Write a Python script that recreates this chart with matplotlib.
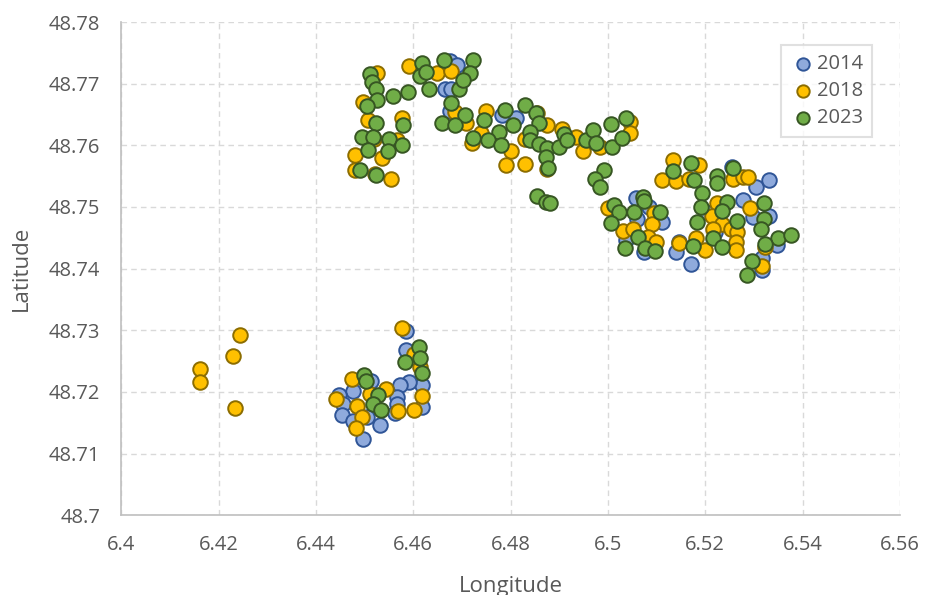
import matplotlib.pyplot as plt
from matplotlib.ticker import FixedLocator

# 2014
lon_2014 = [6.4585, 6.4586, 6.4619, 6.4591, 6.4572, 6.4619, 6.4566, 6.4567, 6.4562, 6.4531,
            6.4514, 6.4476, 6.4447, 6.4456, 6.4453, 6.4476, 6.4496, 6.4504,
            6.4675, 6.4665, 6.4678, 6.4675, 6.4811, 6.4690, 6.4782,
            6.5254, 6.5305, 6.5330, 6.5277, 6.5297, 6.5317, 6.5317, 6.5201, 6.5146, 6.5140,
            6.5171, 6.5058, 6.5085, 6.5112, 6.5074, 6.5037, 6.5348, 6.5220, 6.5330, 6.5060]
lat_2014 = [48.7299, 48.7268, 48.7211, 48.7216, 48.7211, 48.7176, 48.7192, 48.7181, 48.7166, 48.7146,
            48.7217, 48.7201, 48.7195, 48.7181, 48.7163, 48.7153, 48.7124, 48.7160,
            48.7736, 48.7692, 48.7691, 48.7656, 48.7644, 48.7730, 48.7650,
            48.7565, 48.7533, 48.7544, 48.7512, 48.7484, 48.7417, 48.7398, 48.7492, 48.7444, 48.7427,
            48.7408, 48.7514, 48.7500, 48.7476, 48.7427, 48.7446, 48.7438, 48.7460, 48.7485, 48.7480]

# 2018
lon_2018 = [6.4162, 6.4162, 6.4230, 6.4244, 6.4234,
            6.4577, 6.4601, 6.4613, 6.4617, 6.4602, 6.4569, 6.4545, 6.4511, 6.4475, 6.4441,
            6.4485, 6.4494, 6.4483,
            6.4526, 6.4497, 6.4507, 6.4576, 6.4566, 6.4480, 6.4535, 6.4480, 6.4521, 6.4555, 6.4520,
            6.4591, 6.4648, 6.4678, 6.4685, 6.4708, 6.4750, 6.4720, 6.4801, 6.4791, 6.4829,
            6.4854, 6.4874, 6.4874, 6.4905, 6.4935, 6.4949, 6.4983, 6.5046, 6.5045, 6.4740, 6.4830,
            6.5133, 6.5112, 6.5140, 6.5188, 6.5167, 6.5256, 6.5277, 6.5287, 6.5292, 6.5317,
            6.5224, 6.5214, 6.5234, 6.5253, 6.5266, 6.5215, 6.5264, 6.5263, 6.5200, 6.5145,
            6.5181, 6.5000, 6.5095, 6.5090, 6.5030, 6.5051, 6.5082, 6.5099, 6.5322]
lat_2018 = [48.7237, 48.7216, 48.7258, 48.7292, 48.7174,
            48.7304, 48.7261, 48.7241, 48.7193, 48.7171, 48.7169, 48.7204, 48.7196, 48.7221, 48.7188,
            48.7177, 48.7160, 48.7142,
            48.7718, 48.7671, 48.7641, 48.7645, 48.7608, 48.7584, 48.7579, 48.7560, 48.7554, 48.7545, 48.7610,
            48.7729, 48.7718, 48.7720, 48.7654, 48.7636, 48.7656, 48.7603, 48.7590, 48.7568, 48.7569,
            48.7653, 48.7633, 48.7561, 48.7626, 48.7614, 48.7590, 48.7598, 48.7638, 48.7620, 48.7620, 48.7610,
            48.7577, 48.7544, 48.7542, 48.7568, 48.7546, 48.7546, 48.7548, 48.7548, 48.7499, 48.7404,
            48.7506, 48.7485, 48.7473, 48.7465, 48.7460, 48.7464, 48.7444, 48.7430, 48.7430, 48.7442,
            48.7449, 48.7499, 48.7490, 48.7473, 48.7461, 48.7464, 48.7452, 48.7444, 48.7435]

# 2023
lon_2023 = [6.4611, 6.4613, 6.4584, 6.4618, 6.4528, 6.4518, 6.4533, 6.4499, 6.4503,
            6.4512, 6.4515, 6.4524, 6.4526, 6.4505, 6.4558, 6.4589, 6.4524, 6.4579, 6.4494,
            6.4518, 6.4551, 6.4577, 6.4507, 6.4548, 6.4490, 6.4524,
            6.4617, 6.4613, 6.4626, 6.4663, 6.4632, 6.4695, 6.4723, 6.4716, 6.4702, 6.4678,
            6.4706, 6.4659, 6.4686, 6.4745, 6.4788, 6.4805, 6.4829, 6.4853, 6.4777, 6.4753,
            6.4781, 6.4722, 6.4859, 6.4839, 6.4839, 6.4858, 6.4874, 6.4873, 6.4876, 6.4899,
            6.4909, 6.4915, 6.4955, 6.4969, 6.4976, 6.5007, 6.5009, 6.5029, 6.5037, 6.4991,
            6.4974, 6.4983, 6.4855, 6.4872, 6.4881,
            6.5134, 6.5171, 6.5177, 6.5225, 6.5225, 6.5256, 6.5194, 6.5191, 6.5321, 6.5321,
            6.5314, 6.5350, 6.5322, 6.5296, 6.5285, 6.5245, 6.5235, 6.5266, 6.5215, 6.5182,
            6.5234, 6.5174, 6.5013, 6.5022, 6.5007, 6.5072, 6.5074, 6.5054, 6.5107, 6.5061,
            6.5077, 6.5097, 6.5034, 6.5376]
lat_2023 = [48.7273, 48.7255, 48.7248, 48.7230, 48.7195, 48.7180, 48.7170, 48.7228, 48.7217,
            48.7715, 48.7703, 48.7692, 48.7673, 48.7663, 48.7680, 48.7686, 48.7636, 48.7633, 48.7614,
            48.7614, 48.7610, 48.7600, 48.7592, 48.7591, 48.7560, 48.7552,
            48.7734, 48.7712, 48.7719, 48.7739, 48.7692, 48.7691, 48.7738, 48.7718, 48.7706, 48.7669,
            48.7649, 48.7636, 48.7633, 48.7641, 48.7657, 48.7633, 48.7665, 48.7652, 48.7622, 48.7609,
            48.7600, 48.7612, 48.7636, 48.7622, 48.7609, 48.7602, 48.7595, 48.7581, 48.7563, 48.7598,
            48.7619, 48.7609, 48.7609, 48.7625, 48.7603, 48.7634, 48.7597, 48.7612, 48.7645, 48.7560,
            48.7546, 48.7533, 48.7518, 48.7508, 48.7506,
            48.7559, 48.7571, 48.7544, 48.7550, 48.7539, 48.7564, 48.7523, 48.7500, 48.7506, 48.7480,
            48.7465, 48.7449, 48.7440, 48.7412, 48.7389, 48.7508, 48.7493, 48.7478, 48.7449, 48.7476,
            48.7435, 48.7436, 48.7503, 48.7492, 48.7474, 48.7517, 48.7510, 48.7492, 48.7492, 48.7452,
            48.7434, 48.7429, 48.7434, 48.7455]

x_ticks = [6.4, 6.42, 6.44, 6.46, 6.48, 6.5, 6.52, 6.54, 6.56]
y_ticks = [48.7, 48.71, 48.72, 48.73, 48.74, 48.75, 48.76, 48.77, 48.78]
x_labels = ['6.4', '6.42', '6.44', '6.46', '6.48', '6.5', '6.52', '6.54', '6.56']
y_labels = ['48.7', '48.71', '48.72', '48.73', '48.74', '48.75', '48.76', '48.77', '48.78']

plt.rcParams['font.family'] = ['Open Sans', 'DejaVu Sans']
grey = '#595959'

fig = plt.figure(figsize=(9.25, 5.95), dpi=100)
ax = fig.add_axes([0.131, 0.134, 0.842, 0.829])

ax.scatter(lon_2014, lat_2014, s=110, c='#8faadc', edgecolors='#2f5597', linewidths=1.4, label='2014', zorder=3)
ax.scatter(lon_2018, lat_2018, s=110, c='#ffc000', edgecolors='#8c6d00', linewidths=1.4, label='2018', zorder=3)
ax.scatter(lon_2023, lat_2023, s=110, c='#70ad47', edgecolors='#375623', linewidths=1.4, label='2023', zorder=3)

ax.set_xlim(6.4, 6.56)
ax.set_ylim(48.7, 48.78)
ax.xaxis.set_major_locator(FixedLocator(x_ticks))
ax.yaxis.set_major_locator(FixedLocator(y_ticks))
ax.set_xticklabels(x_labels)
ax.set_yticklabels(y_labels)
ax.tick_params(length=0, labelsize=14.5, labelcolor=grey)
ax.tick_params(axis='x', pad=14)
ax.tick_params(axis='y', pad=15)
ax.grid(True, color='#d9d9d9', linestyle=(0, (4, 3)), linewidth=1)
ax.set_axisbelow(True)
for side in ['top', 'right']:
    ax.spines[side].set_visible(False)
for side in ['left', 'bottom']:
    ax.spines[side].set_color('#bfbfbf')
    ax.spines[side].set_linewidth(1.2)

ax.set_xlabel('Longitude', fontsize=16, color=grey, labelpad=15)
ax.set_ylabel('Latitude', fontsize=16, color=grey, labelpad=12)

leg = ax.legend(loc='upper left', bbox_to_anchor=(0.847, 0.953), borderaxespad=0, fontsize=14.5,
                fancybox=False, edgecolor='#d9d9d9', handletextpad=0.05, borderpad=0.45,
                labelspacing=0.35, markerscale=0.85, handlelength=1.3)
for t in leg.get_texts():
    t.set_color(grey)
leg.get_frame().set_linewidth(1.5)

fig.savefig('out.png', dpi=100)
